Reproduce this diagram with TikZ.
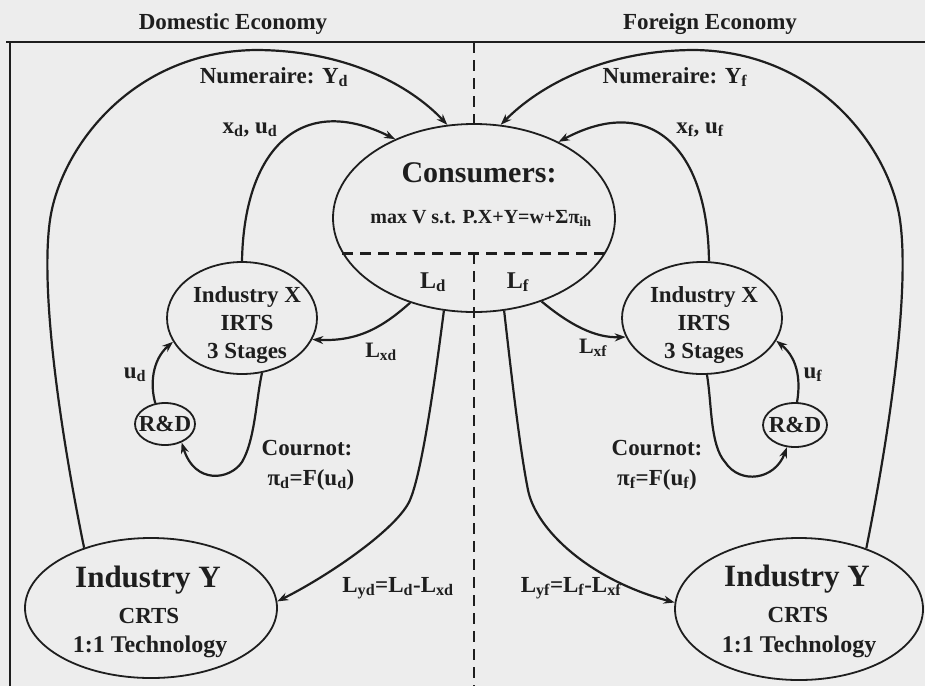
\documentclass[tikz,border=0pt]{standalone}
\usepackage{fontspec}
\setmainfont{Liberation Serif}
\usetikzlibrary{shapes.geometric,arrows.meta}
\definecolor{ink}{HTML}{1E1E1E}
\definecolor{paper}{HTML}{EDEDED}
\newcommand{\dn}[1]{\textsubscript{#1}}
\begin{document}
\begin{tikzpicture}[x=1pt,y=-1pt,
  ell/.style={draw=ink,line width=1.8pt,ellipse,inner sep=0pt},
  flow/.style={draw=ink,line width=2.2pt,-{Stealth[length=11pt,width=8pt]}},
  frame/.style={draw=ink,line width=2pt},
  sep/.style={draw=ink,line width=2.6pt,dash pattern=on 11pt off 7pt},
  txt/.style={text=ink,inner sep=0pt,anchor=base,font=\bfseries\fontsize{#1}{#1}\selectfont}
]
\fill[paper] (0,0) rectangle (925,686);
\useasboundingbox (0,0) rectangle (925,686);

% frame
\coordinate (fl) at (6,42);
\coordinate (fr) at (925,42);
\coordinate (ft) at (10,42);
\coordinate (fb) at (10,686);
\draw[frame] (fl) -- (fr);
\draw[frame] (ft) -- (fb);

% ellipses
\node[ell,minimum width=282pt,minimum height=188pt] (C) at (474,218) {};
\node[ell,minimum width=150pt,minimum height=112pt] (XL) at (242,318) {};
\node[ell,minimum width=160pt,minimum height=112pt] (XR) at (702,318) {};
\node[ell,minimum width=60pt,minimum height=42pt] (RDL) at (165,424) {};
\node[ell,minimum width=64pt,minimum height=44pt] (RDR) at (795,425) {};
\node[ell,minimum width=252pt,minimum height=140pt] (YL) at (151,608) {};
\node[ell,minimum width=248pt,minimum height=142pt] (YR) at (799,609) {};

% dashed separators
\coordinate (dtop) at (473,42);
\coordinate (dbot) at (473,686);
\draw[sep] (C.north |- dtop) -- (C.north);
\draw[sep] (C.195) -- (C.-15);
\draw[sep] (C.center |- C.195) -- (C.center |- dbot);

% titles
\node[txt=23] (td) at (233,29) {Domestic Economy};
\node[txt=23] (tf) at (710,29) {Foreign Economy};

% node texts
\node[txt=30] (c1) at (479,182) {Consumers:};
\node[txt=20] (c2) at (481,223) {max V s.t. P.X+Y=w+Σπ\dn{ih}};
\node[txt=24] (ld) at (433,288) {L\dn{d}};
\node[txt=24] (lf) at (518,288) {L\dn{f}};

\node[txt=23] (xl1) at (247,302) {Industry X};
\node[txt=23] (xl2) at (247,330) {IRTS};
\node[txt=23] (xl3) at (247,358) {3 Stages};
\node[txt=23] (xr1) at (704,302) {Industry X};
\node[txt=23] (xr2) at (704,330) {IRTS};
\node[txt=23] (xr3) at (704,358) {3 Stages};

\node[txt=23,anchor=center] (rdl) at (RDL.center) {R\&D};
\node[txt=23,anchor=center] (rdr) at (RDR.center) {R\&D};

\node[txt=31] (yl1) at (148,587) {Industry Y};
\node[txt=23] (yl2) at (149,623) {CRTS};
\node[txt=24] (yl3) at (150,652) {1:1 Technology};
\node[txt=31] (yr1) at (797,586) {Industry Y};
\node[txt=23] (yr2) at (798,622) {CRTS};
\node[txt=24] (yr3) at (799,652) {1:1 Technology};

% connector labels
\node[txt=23] (nd) at (274,83) {Numeraire: Y\dn{d}};
\node[txt=23] (nf) at (675,83) {Numeraire: Y\dn{f}};
\node[txt=23] (xud) at (250,133) {x\dn{d}, u\dn{d}};
\node[txt=23] (xuf) at (700,133) {x\dn{f}, u\dn{f}};
\node[txt=22] (lxd) at (381,357) {L\dn{xd}};
\node[txt=22] (lxf) at (593,353) {L\dn{xf}};
\node[txt=23] (ud) at (135,378) {u\dn{d}};
\node[txt=23] (uf) at (813,378) {u\dn{f}};
\node[txt=23] (cdl1) at (307,455) {Cournot:};
\node[txt=23] (cdl2) at (311,485) {π\dn{d}=F(u\dn{d})};
\node[txt=23] (cdr1) at (657,455) {Cournot:};
\node[txt=23] (cdr2) at (657,485) {π\dn{f}=F(u\dn{f})};
\node[txt=23] (lyd) at (398,592) {L\dn{yd}=L\dn{d}-L\dn{xd}};
\node[txt=23] (lyf) at (571,592) {L\dn{yf}=L\dn{f}-L\dn{xf}};

% connectors
\draw[flow] (YL.138) .. controls (60,430) and (40,290) .. (50,220)
  .. controls (60,150) and (130,52) .. (255,50)
  .. controls (345,50) and (410,85) .. (C.106);
\draw[flow] (YR.42) .. controls (890,430) and (910,290) .. (900,220)
  .. controls (890,150) and (820,52) .. (695,50)
  .. controls (605,50) and (540,85) .. (C.74);
\draw[flow] (XL.north) .. controls (244,150) and (300,92) .. (C.135);
\draw[flow] (XR.83) .. controls (708,150) and (652,92) .. (C.42);
\draw[flow] (C.233) .. controls (385,325) and (360,342) .. (XL.-17);
\draw[flow] (C.309) .. controls (570,325) and (595,338) .. (XR.194);
\draw[flow] (C.252) .. controls (435,380) and (422,472) .. (410,500)
  .. controls (398,528) and (330,575) .. (YL.3);
\draw[flow] (C.288) .. controls (512,380) and (520,450) .. (528,490)
  .. controls (536,530) and (590,580) .. (YR.177);
\draw[flow] (RDL.115) .. controls (150,385) and (152,360) .. (XL.199);
\draw[flow] (XL.290) .. controls (256,400) and (255,440) .. (242,462)
  .. controls (230,480) and (195,485) .. (RDL.-48);
\draw[flow] (RDR.85) .. controls (800,385) and (800,360) .. (XR.-17);
\draw[flow] (XR.-85) .. controls (712,405) and (710,445) .. (725,462)
  .. controls (740,485) and (775,480) .. (RDR.-110);
\end{tikzpicture}
\end{document}
